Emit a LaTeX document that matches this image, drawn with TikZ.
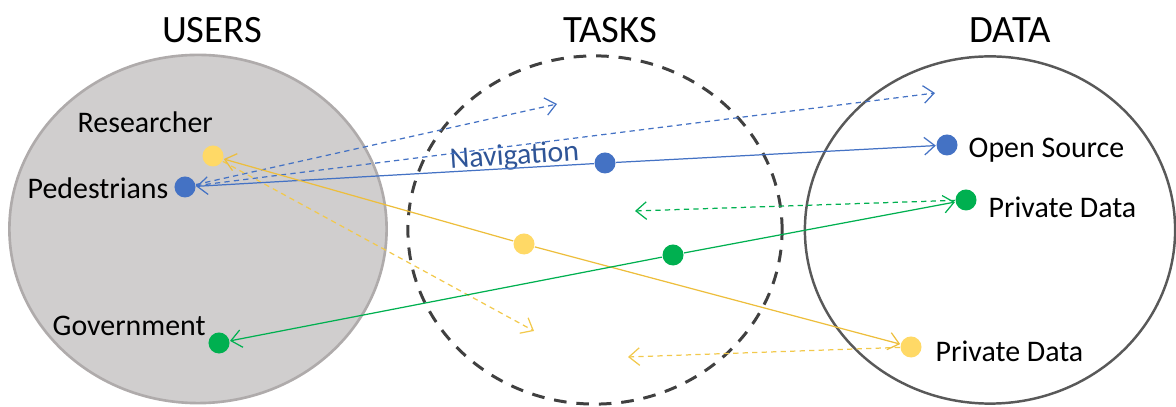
\documentclass[tikz,border=0pt]{standalone}
\usepackage{fontspec}
\setmainfont{Carlito}
\usetikzlibrary{arrows.meta}
\definecolor{ublue}{HTML}{4472C4}
\definecolor{navblue}{HTML}{2F5597}
\definecolor{ydot}{HTML}{FFD966}
\definecolor{yline}{HTML}{EDBE3C}
\definecolor{ydash}{HTML}{F2C94C}
\definecolor{ugreen}{HTML}{00B050}
\definecolor{gfill}{HTML}{D0CECE}
\definecolor{gborder}{HTML}{AFABAB}
\definecolor{dborder}{HTML}{404040}
\definecolor{rborder}{HTML}{595959}
\tikzset{
  dot/.style={circle,inner sep=0pt,minimum size=0.21cm,draw=none},
  title/.style={font=\fontsize{11pt}{13pt}\selectfont,anchor=base,inner sep=0pt},
  lbl/.style={font=\fontsize{8.5pt}{10pt}\selectfont,anchor=base west,inner sep=0pt},
  conn/.style={line width=0.35pt,-{Straight Barb[length=3pt,width=5pt]}},
  dconn/.style={conn,dash pattern=on 1.5pt off 1.2pt},
}
\begin{document}
\begin{tikzpicture}[x=0.01cm,y=-0.01cm]
\useasboundingbox (0,0) rectangle (1176,407);
% sets
\draw[fill=gfill,draw=gborder,line width=0.75pt] (198,229) ellipse [x radius=1.885cm,y radius=1.74cm];
\draw[draw=dborder,line width=0.85pt,dash pattern=on 3.6pt off 2.8pt] (595,230) ellipse [x radius=1.87cm,y radius=1.74cm];
\draw[draw=rborder,line width=0.7pt] (990,230) ellipse [x radius=1.85cm,y radius=1.735cm];
% titles
\node[title] (tusers) at (212,43) {USERS};
\node[title] (ttasks) at (610,43) {TASKS};
\node[title] (tdata) at (1010,43) {DATA};
% dots
\node[dot,fill=ydot] (res) at (213,156) {};
\node[dot,fill=ublue] (ped) at (185,187) {};
\node[dot,fill=ugreen] (gov) at (219,343) {};
\node[dot,fill=ublue] (nav) at (605,163) {};
\node[dot,fill=ydot] (ymid) at (524,244) {};
\node[dot,fill=ugreen] (gmid) at (673,255) {};
\node[dot,fill=ublue] (open) at (947,145) {};
\node[dot,fill=ugreen] (gpriv) at (966,200) {};
\node[dot,fill=ydot] (ypriv) at (911,347) {};
% labels
\node[lbl] (lres) at (77,133) {Researcher};
\node[lbl] (lped) at (27,199) {Pedestrians};
\node[lbl] (lgov) at (52,336) {Government};
\node[lbl] (lopen) at (968,158) {Open Source};
\node[lbl] (lgpriv) at (988,218) {Private Data};
\node[lbl] (lypriv) at (935,362) {Private Data};
\node[lbl,text=navblue,rotate=4] (lnav) at (450,169) {Navigation};
% dashed free ends
\coordinate (bd1) at (557,104);
\coordinate (bd2) at (935,93);
\coordinate (gd1) at (635,211);
\coordinate (yd1) at (534,331);
\coordinate (yd2) at (628,357);
% dashed connectors
\draw[dconn,draw=ublue] (ped) -- (bd1);
\draw[dconn,draw=ublue] (ped) -- (bd2);
\draw[dconn,draw=ugreen] (gpriv) -- (gd1);
\draw[dconn,draw=ydash] (res) -- (yd1);
\draw[dconn,draw=ydash] (ypriv) -- (yd2);
% solid connectors
\draw[conn,draw=ublue] (nav) -- (ped);
\draw[conn,draw=ublue] (nav) -- (open);
\draw[conn,draw=yline] (ymid) -- (res);
\draw[conn,draw=yline] (ymid) -- (ypriv);
\draw[conn,draw=ugreen] (gmid) -- (gov);
\draw[conn,draw=ugreen] (gmid) -- (gpriv);
\end{tikzpicture}
\end{document}
